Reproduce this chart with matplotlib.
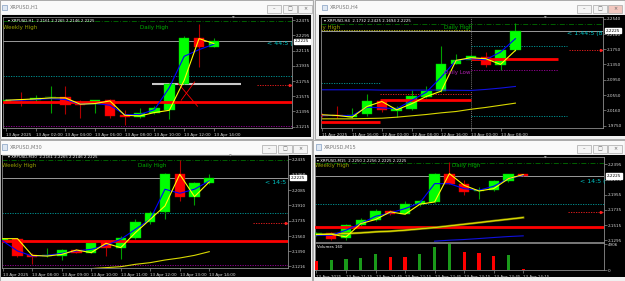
import numpy as np
import matplotlib.pyplot as plt
from matplotlib.patches import Rectangle

W, H = 625, 281
price_now = 2.2225

# ---------------- XRPUSD,H1 ----------------
h1_xlabels = ["13 Apr 2025", "13 Apr 02:00", "13 Apr 04:00", "13 Apr 06:00",
              "13 Apr 08:00", "13 Apr 10:00", "13 Apr 12:00", "13 Apr 14:00"]
h1_xtick_bars = [0, 2, 4, 6, 8, 10, 12, 14]
h1_yticks = [2.1215, 2.1395, 2.1575, 2.1755, 2.1935, 2.2115, 2.2295, 2.2475]
h1_open = [2.1510, 2.1530, 2.1527, 2.1560, 2.1566, 2.1480, 2.1488, 2.1527,
           2.1349, 2.1330, 2.1377, 2.1416, 2.1725, 2.2266, 2.2159]
h1_high = [2.1545, 2.1626, 2.1594, 2.1693, 2.1693, 2.1535, 2.1530, 2.1543,
           2.1409, 2.1440, 2.1456, 2.1732, 2.2285, 2.2428, 2.2266]
h1_low = [2.1500, 2.1456, 2.1507, 2.1377, 2.1369, 2.1322, 2.1377, 2.1322,
          2.1231, 2.1322, 2.1369, 2.1310, 2.1717, 2.1922, 2.2155]
h1_close = [2.1525, 2.1525, 2.1559, 2.1565, 2.1476, 2.1476, 2.1527, 2.1337,
            2.1330, 2.1377, 2.1436, 2.1717, 2.2266, 2.2159, 2.2225]
h1_ma_fast = [2.1527, 2.1535, 2.1543, 2.1555, 2.1555, 2.1480, 2.1488, 2.1519,
              2.1349, 2.1341, 2.1381, 2.1408, 2.1764, 2.2258, 2.2199]
h1_ma_slow = [2.1527, 2.1527, 2.1535, 2.1547, 2.1535, 2.1480, 2.1488, 2.1468,
              2.1357, 2.1357, 2.1416, 2.1677, 2.2048, 2.2127, 2.2191]
h1_weekly_high = 2.2467
h1_teal = 2.1815
h1_red_level = 2.1503
h1_purple = 2.1227
h1_gray_seg = (2.1725, 9.8, 15.8)
h1_red_dot = (2.1713, 16.9)
h1_cross_a = ([11.6, 12.9], [2.1725, 2.1456])
h1_cross_b = ([11.8, 12.7], [2.1527, 2.1744])

# ---------------- XRPUSD,H4 ----------------
h4_xlabels = ["11 Apr 2025", "11 Apr 16:00", "12 Apr 00:00", "12 Apr 08:00",
              "12 Apr 16:00", "13 Apr 00:00", "13 Apr 08:00"]
h4_xtick_bars = [0, 2, 4, 6, 8, 10, 12]
h4_yticks = [1.9750, 2.0160, 2.0550, 2.0950, 2.1350, 2.1750, 2.2140, 2.2540]
h4_open = [2.0040, 2.0030, 1.9979, 2.0049, 2.0396, 2.0136, 2.0196, 2.0500,
           2.0656, 2.1368, 2.1472, 2.1542, 2.1325, 2.1715]
h4_high = [2.0080, 2.0257, 2.0222, 2.0587, 2.0420, 2.0257, 2.0691, 2.0778,
           2.1820, 2.1629, 2.1585, 2.1672, 2.1730, 2.2427]
h4_low = [1.9990, 1.9962, 1.9962, 2.0014, 2.0110, 1.9979, 2.0170, 2.0483,
          2.0622, 2.1351, 2.1455, 2.1281, 2.1212, 2.1700]
h4_close = [2.0010, 2.0010, 2.0040, 2.0396, 2.0153, 2.0222, 2.0518, 2.0656,
            2.1368, 2.1472, 2.1559, 2.1325, 2.1715, 2.2225]
h4_ma_fast = [2.0040, 2.0023, 1.9979, 2.0257, 2.0387, 2.0170, 2.0327, 2.0518,
              2.0656, 2.1455, 2.1524, 2.1498, 2.1351, 2.1715]
h4_ma_slow = [2.0023, 2.0023, 2.0023, 2.0240, 2.0222, 2.0196, 2.0413, 2.0630,
              2.1021, 2.1455, 2.1498, 2.1472, 2.1672, 2.2019]
h4_ma_long_blue = [2.0691, 2.0691, 2.0691, 2.0691, 2.0683, 2.0683, 2.0683,
                   2.0683, 2.0683, 2.0678, 2.0674, 2.0700, 2.0735, 2.0778]
h4_ma_long_yellow = [1.9936, 1.9936, 1.9936, 1.9945, 1.9953, 1.9979, 2.0014,
                     2.0049, 2.0092, 2.0127, 2.0185, 2.0232, 2.0288, 2.0344]
h4_daily_high = 2.2410
h4_weekly_high = (2.2254, -0.1, 10.0)
h4_teal_hi = (2.1820, 10.0, 16.5)
h4_red_dot = (2.1715, 16.6)
h4_red_day = (2.1498, 10.0, 15.9)
h4_purple = (2.1212, 10.0, 15.9)
h4_teal_mid = (2.0865, -0.1, 3.9)
h4_red_prev = (2.0413, 3.9, 10.0)
h4_red_prev_dot = (2.0587, 3.9, 10.0)
h4_teal_lo = (1.9997, 10.0, 16.5)
h4_red_old = (1.9850, -0.1, 3.9)
h4_day_sep = 10

# ---------------- XRPUSD,M30 ----------------
m30_xlabels = ["13 Apr 2025", "13 Apr 08:00", "13 Apr 09:00", "13 Apr 10:00",
               "13 Apr 11:00", "13 Apr 12:00", "13 Apr 13:00", "13 Apr 14:00"]
m30_xtick_bars = [0, 2, 4, 6, 8, 10, 12, 14]
m30_yticks = [2.1216, 2.1390, 2.1560, 2.1735, 2.1910, 2.2085, 2.2260, 2.2435]
m30_open = [2.1516, 2.1531, 2.1345, 2.1333, 2.1333, 2.1398, 2.1372, 2.1493,
            2.1429, 2.1543, 2.1721, 2.1835, 2.2264, 2.2010, 2.2162]
m30_high = [2.1543, 2.1543, 2.1372, 2.1429, 2.1410, 2.1410, 2.1493, 2.1505,
            2.1562, 2.1752, 2.1847, 2.2283, 2.2427, 2.2177, 2.2264]
m30_low = [2.1505, 2.1326, 2.1239, 2.1326, 2.1288, 2.1365, 2.1365, 2.1333,
           2.1303, 2.1531, 2.1695, 2.1752, 2.1960, 2.1911, 2.2150]
m30_close = [2.1531, 2.1333, 2.1326, 2.1340, 2.1402, 2.1372, 2.1478, 2.1429,
             2.1543, 2.1721, 2.1828, 2.2264, 2.2010, 2.2162, 2.2225]
m30_ma_fast = [2.1531, 2.1531, 2.1341, 2.1333, 2.1352, 2.1402, 2.1372, 2.1478,
               2.1429, 2.1600, 2.1752, 2.1904, 2.2264, 2.2010, 2.2177]
m30_ma_slow = [2.1505, 2.1391, 2.1333, 2.1341, 2.1364, 2.1391, 2.1410, 2.1455,
               2.1524, 2.1638, 2.1752, 2.2094, 2.2048, 2.2094, 2.2188]
m30_ma_long = [np.nan, np.nan, np.nan, np.nan, np.nan, np.nan, 2.1190, 2.1201,
               2.1212, 2.1239, 2.1258, 2.1288, 2.1311, 2.1341, 2.1383]
m30_weekly_high = 2.2427
m30_teal = 2.1820
m30_red_dot = (2.1713, 17.0)
m30_red_level = 2.1501
m30_purple = 2.1235

# ---------------- XRPUSD,M15 ----------------
m15_xlabels = ["13 Apr 2025", "13 Apr 11:15", "13 Apr 11:45", "13 Apr 12:15",
               "13 Apr 12:45", "13 Apr 13:15", "13 Apr 13:45", "13 Apr 14:15"]
m15_xtick_bars = [0, 2, 4, 6, 8, 10, 12, 14]
m15_yticks = [2.1295, 2.1515, 2.1735, 2.1955, 2.2175, 2.2395]
m15_open = [2.1368, 2.1402, 2.1335, 2.1513, 2.1585, 2.1720, 2.1682, 2.1817,
            2.1850, 2.2260, 2.2115, 2.2009, 2.2019, 2.2154, 2.2250]
m15_high = [2.1417, 2.1410, 2.1537, 2.1624, 2.1754, 2.1730, 2.1860, 2.1884,
            2.2270, 2.2429, 2.2173, 2.2067, 2.2173, 2.2260, 2.2260]
m15_low = [2.1360, 2.1306, 2.1306, 2.1499, 2.1576, 2.1662, 2.1672, 2.1797,
           2.1836, 2.2106, 2.1947, 2.1899, 2.2009, 2.2140, 2.2221]
m15_close = [2.1402, 2.1320, 2.1513, 2.1585, 2.1715, 2.1672, 2.1817, 2.1865,
             2.2260, 2.2115, 2.1995, 2.2029, 2.2154, 2.2250, 2.2225]
m15_ma_fast = [2.1378, 2.1383, 2.1344, 2.1537, 2.1595, 2.1706, 2.1672, 2.1817,
               2.1850, 2.2260, 2.2091, 2.2009, 2.2043, 2.2188, 2.2246]
m15_ma_slow = [2.1368, 2.1368, 2.1441, 2.1537, 2.1643, 2.1691, 2.1754, 2.1836,
               2.2115, 2.2115, 2.2043, 2.2019, 2.2077, 2.2188, 2.2236]
m15_ma_long = [2.1378, 2.1383, 2.1393, 2.1402, 2.1417, 2.1426, 2.1441, 2.1460,
               2.1479, 2.1503, 2.1527, 2.1551, 2.1576, 2.1600, 2.1624]
m15_ma_long_blue = [np.nan, np.nan, np.nan, np.nan, np.nan, np.nan, np.nan, np.nan,
                    2.1282, 2.1296, 2.1306, 2.1320, 2.1335, 2.1349, 2.1359]
m15_volume = [1790, 1856, 2188, 2200, 2983, 2519, 2453, 3116, 4310, 4906,
              3447, 3315, 2652, 2917, 160]
m15_weekly_high = 2.2419
m15_teal = 2.1817
m15_red_dot = (2.1706, 17.0)
m15_red_level = 2.1489

# ------------------------------------------------------------------
fig = plt.figure(figsize=(6.25, 2.81), dpi=100, facecolor='#e6e6e6')

TXT = '#d8d8d8'
GRID = '#8c8c8c'


def prect(x0, y0, x1, y1, **kw):
    fig.add_artist(Rectangle((x0 / W, 1 - y1 / H), (x1 - x0) / W, (y1 - y0) / H,
                             transform=fig.transFigure, **kw))


def ptext(x, y, s, **kw):
    kw.setdefault('va', 'center')
    fig.text(x / W, 1 - y / H, s, **kw)


def window(box, black, title, tx, btn_x, close_red=False):
    x0, y0, x1, y1 = box
    prect(x0, y0, x1, y1, fc='#f0f0f0', ec='#a0a0a0', lw=0.6, zorder=-10)
    prect(x0 + 1, y0 + 1, x1 - 1, y0 + 14, fc='#fafafa', ec='none', zorder=-9)
    prect(tx - 8, y0 + 4.5, tx - 3, y0 + 10, fc='#dfe8f3', ec='#6a8ab5', lw=0.4, zorder=-8)
    ptext(tx, y0 + 7.5, title, fontsize=3.6, color='#7a7a7a')
    glyphs = ['\u2013', '\u25a1', '\u00d7']
    for i, bx in enumerate(btn_x):
        fc = '#f2c8c0' if (close_red and i == 2) else '#f4f4f4'
        prect(bx, y0 + 5, bx + 14, y0 + 13, fc=fc, ec='#a8a8a8', lw=0.5, zorder=-8)
        ptext(bx + 7, y0 + 9, glyphs[i], fontsize=3.5, color='#606060', ha='center')
    prect(*black, fc='black', ec='none', zorder=-7)


def chart_ax(frame, xlim, ylim, yticks, xbars, xlabels, show_x=True):
    x0, y0, x1, y1 = frame
    ax = fig.add_axes([x0 / W, 1 - y1 / H, (x1 - x0) / W, (y1 - y0) / H])
    ax.set_facecolor('black')
    ax.set_xlim(*xlim)
    ax.set_ylim(*ylim)
    for s in ax.spines.values():
        s.set_color(GRID)
        s.set_linewidth(0.6)
    ax.yaxis.tick_right()
    ax.set_yticks(yticks)
    ax.set_yticklabels([f'{v:.4f}' for v in yticks])
    ax.tick_params(axis='y', colors=GRID, labelcolor=TXT, labelsize=3,
                   length=2, width=0.5, pad=1)
    if show_x:
        ax.set_xticks(xbars)
        ax.set_xticklabels(xlabels)
        ax.tick_params(axis='x', colors=GRID, labelcolor=TXT, labelsize=3,
                       length=2, width=0.5, pad=1.5)
        for t in ax.get_xticklabels():
            t.set_ha('left')
    else:
        ax.set_xticks([])
    return ax


def candles(ax, o, h, l, c):
    o, h, l, c = map(np.asarray, (o, h, l, c))
    x = np.arange(len(o))
    up = c >= o
    span = ax.get_ylim()[1] - ax.get_ylim()[0]
    ax.vlines(x, l, h, colors=np.where(up, '#00a000', '#b00000'), lw=0.8, zorder=2)
    ax.bar(x, np.maximum(np.abs(c - o), span * 0.006), 0.7, bottom=np.minimum(o, c),
           color=np.where(up, '#00ff00', '#ff0000'),
           edgecolor=np.where(up, '#00c000', '#d00000'), lw=0.3, zorder=3)


def mas(ax, *series):
    x = np.arange(len(series[0][0]))
    for vals, col, lw in series:
        ax.plot(x, vals, color=col, lw=lw, zorder=5)


def price_box(ax, v=price_now):
    ax.axhline(v, color='#9a9a9a', lw=0.7, zorder=1)
    ax.text(1.01, v, f'{v:.4f}', transform=ax.get_yaxis_transform(), ha='left',
            va='center', fontsize=3, color='black', zorder=10,
            bbox=dict(boxstyle='square,pad=0.15', fc='white', ec='white'))


dashdot = (0, (6, 2, 1, 2))

# ---------------- panel 1 : H1 ----------------
window((0, 0, 313, 139), (2, 15, 311, 137), 'XRPUSD,H1', 10, [267, 283, 298])
ax1 = chart_ax((3, 17, 292, 128), (-0.2, 19.26), (2.1198, 2.2514), h1_yticks,
               h1_xtick_bars, h1_xlabels)
ax1.axhline(h1_weekly_high, color='#007000', lw=0.6, ls=dashdot, zorder=1)
price_box(ax1)
ax1.axhline(h1_teal, color='#00a0a0', lw=0.6, ls=(0, (1.5, 1.5)), zorder=1)
ax1.axhline(h1_purple, color='#a000a0', lw=0.6, ls=(0, (1.5, 1.5)), zorder=1)
ax1.hlines(h1_gray_seg[0], h1_gray_seg[1], h1_gray_seg[2], color='#c8c8c8', lw=1.5, zorder=1)
ax1.hlines(h1_red_dot[0], h1_red_dot[1], 19.26, color='#ff2020', lw=0.6, ls=(0, (1.5, 1.5)), zorder=1)
ax1.plot(19.1, h1_red_dot[0], marker='>', ms=1.5, color='#ff2020')
candles(ax1, h1_open, h1_high, h1_low, h1_close)
ax1.axhline(h1_red_level, color='#ff0000', lw=2, zorder=4)
ax1.plot(*h1_cross_a, color='#ff0000', lw=0.6, zorder=4)
ax1.plot(*h1_cross_b, color='#ff0000', lw=0.6, zorder=4)
mas(ax1, (h1_ma_slow, '#0000ff', 0.8), (h1_ma_fast, '#ffff00', 0.8))

ptext(8, 21.5, '\u25be XRPUSD,H1  2.2161 2.2265 2.2146 2.2225', fontsize=2.8, color='white')
ptext(3, 27.5, 'Weekly High', fontsize=4, color='#9aa000')
ptext(140, 27.5, 'Daily High', fontsize=4, color='#00b000')
ptext(267, 44, '< 44:5 (', fontsize=4.5, color='#00c8c8')
ptext(233, 18, '\u25bc', fontsize=2.5, color='#a0a0a0', ha='center')

# ---------------- panel 2 : H4 ----------------
window((315, 0, 625, 139), (319, 15, 625, 136), 'XRPUSD,H4', 330, [577, 593, 608], close_red=True)
ax2 = chart_ax((321, 17, 603, 128), (-0.1, 18.9), (1.9698, 2.2582), h4_yticks,
               h4_xtick_bars, h4_xlabels)
ax2.axvline(h4_day_sep, color='#a0a0a0', lw=0.5, ls=(0, (1.5, 1.5)), zorder=1)
ax2.axhline(h4_daily_high, color='#007000', lw=0.6, ls=dashdot, zorder=1)
ax2.hlines(h4_weekly_high[0], h4_weekly_high[1], h4_weekly_high[2], color='#c8c800',
           lw=0.6, ls=(0, (1.5, 1.5)), zorder=1)
price_box(ax2)
for seg, col, lw, ls in [(h4_teal_hi, '#00a0a0', 0.6, (0, (1.5, 1.5))),
                         (h4_purple, '#a000a0', 0.6, (0, (1.5, 1.5))),
                         (h4_teal_mid, '#00a0a0', 0.6, (0, (1.5, 1.5))),
                         (h4_red_prev_dot, '#ff2020', 0.6, (0, (1.5, 1.5))),
                         (h4_teal_lo, '#00a0a0', 0.6, (0, (1.5, 1.5)))]:
    ax2.hlines(seg[0], seg[1], seg[2], color=col, lw=lw, ls=ls, zorder=1)
ax2.hlines(h4_red_dot[0], h4_red_dot[1], 18.9, color='#ff2020', lw=0.6, ls=(0, (1.5, 1.5)), zorder=1)
ax2.plot(18.75, h4_red_dot[0], marker='>', ms=1.5, color='#ff2020')
candles(ax2, h4_open, h4_high, h4_low, h4_close)
for seg in (h4_red_day, h4_red_prev, h4_red_old):
    ax2.hlines(seg[0], seg[1], seg[2], color='#ff0000', lw=2, zorder=4)
mas(ax2, (h4_ma_long_blue, '#1010e0', 0.8), (h4_ma_long_yellow, '#d8d800', 0.8),
    (h4_ma_slow, '#0000ff', 0.8), (h4_ma_fast, '#ffff00', 0.8))

ptext(324, 21.5, '\u25be XRPUSD,H4  2.1732 2.2425 2.1694 2.2225', fontsize=2.8, color='white')
ptext(321, 27.5, 'ly High', fontsize=4, color='#9aa000')
ptext(444, 27.5, 'Daily High', fontsize=4, color='#00b000')
ptext(444, 72, 'Daily Low', fontsize=4, color='#b020b0')
ptext(567, 33, '< 1:44:5 (8', fontsize=4.5, color='#00c8c8')
ptext(545, 18, '\u25bc', fontsize=2.5, color='#a0a0a0', ha='center')

# ---------------- panel 3 : M30 ----------------
window((0, 140, 312, 281), (1, 155, 311, 277), 'XRPUSD,M30', 10, [262, 278, 293])
ax3 = chart_ax((2, 155, 288, 268), (-0.05, 19.34), (2.1197, 2.2484), m30_yticks,
               m30_xtick_bars, m30_xlabels)
ax3.axhline(m30_weekly_high, color='#007000', lw=0.6, ls=dashdot, zorder=1)
price_box(ax3)
ax3.axhline(m30_teal, color='#00a0a0', lw=0.6, ls=(0, (1.5, 1.5)), zorder=1)
ax3.axhline(m30_purple, color='#a000a0', lw=0.6, ls=(0, (1.5, 1.5)), zorder=1)
ax3.hlines(m30_red_dot[0], m30_red_dot[1], 19.34, color='#ff2020', lw=0.6, ls=(0, (1.5, 1.5)), zorder=1)
ax3.plot(19.2, m30_red_dot[0], marker='>', ms=1.5, color='#ff2020')
candles(ax3, m30_open, m30_high, m30_low, m30_close)
ax3.axhline(m30_red_level, color='#ff0000', lw=2, zorder=4)
mas(ax3, (m30_ma_long, '#d8d800', 0.8), (m30_ma_slow, '#0000ff', 0.8),
    (m30_ma_fast, '#ffff00', 0.8))

ptext(8, 157.5, '\u25be XRPUSD,M30  2.2161 2.2265 2.2146 2.2225', fontsize=2.8, color='white')
ptext(2, 165, 'Weekly High', fontsize=4, color='#9aa000')
ptext(138, 165, 'Daily High', fontsize=4, color='#00b000')
ptext(265, 182, '< 14:5', fontsize=4.5, color='#00c8c8')
ptext(230, 155.5, '\u25bc', fontsize=2.5, color='#a0a0a0', ha='center')

# ---------------- panel 4 : M15 + volumes ----------------
window((313, 140, 625, 281), (315, 155, 625, 277), 'XRPUSD,M15', 324, [577, 593, 608])
ax4 = chart_ax((315, 157, 604, 242), (-0.1, 19.47), (2.1270, 2.2501), m15_yticks,
               [], [], show_x=False)
ax4.axhline(m15_weekly_high, color='#007000', lw=0.6, ls=dashdot, zorder=1)
price_box(ax4)
ax4.axhline(m15_teal, color='#00a0a0', lw=0.6, ls=(0, (1.5, 1.5)), zorder=1)
ax4.hlines(m15_red_dot[0], m15_red_dot[1], 19.47, color='#ff2020', lw=0.6, ls=(0, (1.5, 1.5)), zorder=1)
ax4.plot(19.3, m15_red_dot[0], marker='>', ms=1.5, color='#ff2020')
candles(ax4, m15_open, m15_high, m15_low, m15_close)
ax4.axhline(m15_red_level, color='#ff0000', lw=2, zorder=4)
xs = np.arange(len(m15_ma_long))
ax4.plot(xs, m15_ma_long, color='#8a8a00', lw=1.6, zorder=5)
mas(ax4, (m15_ma_long, '#ffff00', 0.5), (m15_ma_long_blue, '#1010e0', 0.8),
    (m15_ma_slow, '#0000ff', 0.8), (m15_ma_fast, '#ffff00', 0.8))

ax5 = chart_ax((315, 243, 604, 270), (-0.1, 19.47), (0, 5150), [0, 4906],
               m15_xtick_bars, m15_xlabels)
ax5.set_yticklabels(['0', '4906'])
vol = np.asarray(m15_volume)
vcol = ['#ff0000'] + ['#1a9a1a' if v >= p else '#ff0000' for p, v in zip(vol[:-1], vol[1:])]
ax5.bar(np.arange(len(vol)), vol, 0.22, color=vcol, zorder=3)

ptext(317, 160.5, '\u25be XRPUSD,M15  2.2250 2.2256 2.2225 2.2225', fontsize=2.8, color='white')
ptext(315, 166, 'Weekly High', fontsize=4, color='#9aa000')
ptext(452, 166, 'Daily High', fontsize=4, color='#00b000')
ptext(580, 182, '< 14:5 (', fontsize=4.5, color='#00c8c8')
ptext(317, 247.5, 'Volumes 160', fontsize=2.8, color='white')
ptext(545, 157.5, '\u25bc', fontsize=2.5, color='#a0a0a0', ha='center')

fig.savefig('out.png', dpi=100, facecolor=fig.get_facecolor())
